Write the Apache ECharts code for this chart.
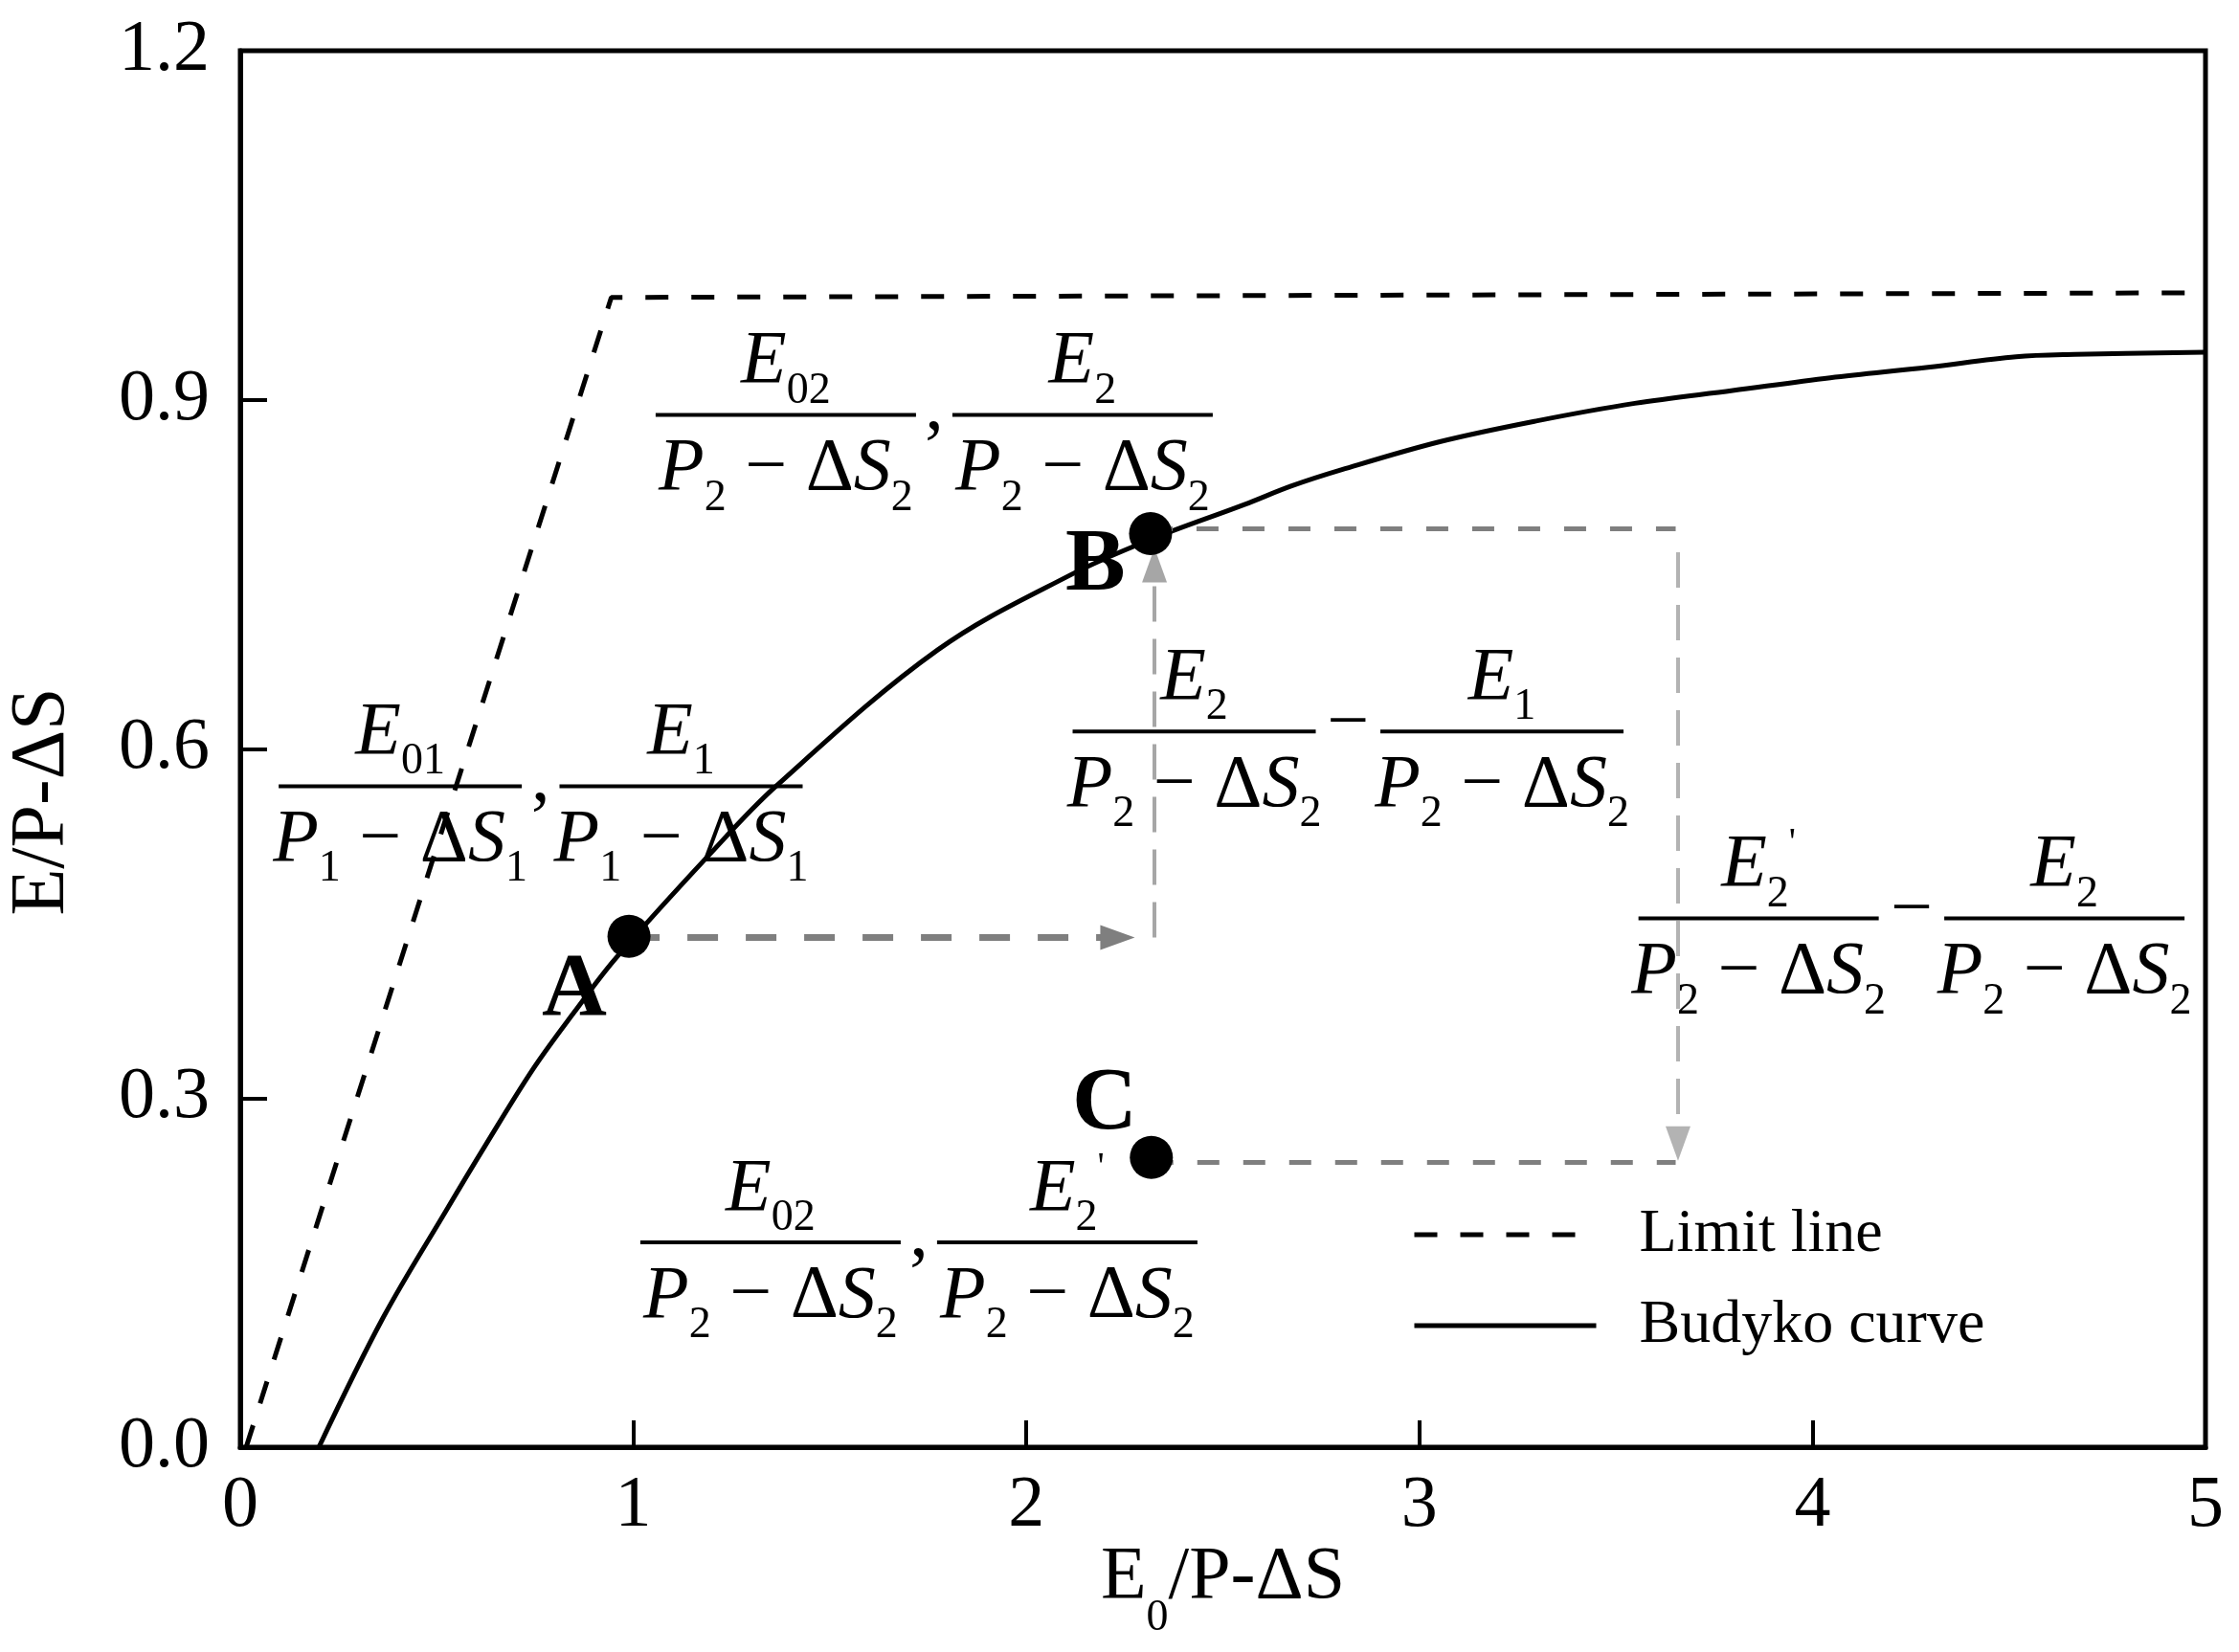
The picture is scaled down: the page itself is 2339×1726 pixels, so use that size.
<!DOCTYPE html>
<html>
<head>
<meta charset="utf-8">
<script src="https://cdn.jsdelivr.net/npm/echarts@6/dist/echarts.min.js"></script>
<style>
html, body { margin: 0; padding: 0; background: #fff; }
#main { width: 2339px; height: 1726px; }
</style>
</head>
<body>
<div id="main"></div>
<script>
var FONT = '"Liberation Serif", "Times New Roman", serif';

// axes
var xTicks = [0, 1, 2, 3, 4, 5];
var yTicks = [0.0, 0.3, 0.6, 0.9, 1.2];

// limit line
var limitX = [0.015, 0.944, 5.0];
var limitY = [0.0, 0.988, 0.992];

// budyko curve
var budykoX = [0.20, 0.363, 0.525, 0.623, 0.745, 0.85, 0.955, 1.193, 1.363, 1.774, 2.115, 2.316, 2.555, 2.675, 2.803, 3.052, 3.30, 3.548, 3.797, 4.045, 4.294, 4.518, 4.667, 5.0];
var budykoY = [0.0, 0.111, 0.204, 0.259, 0.325, 0.374, 0.420, 0.509, 0.568, 0.685, 0.750, 0.780, 0.810, 0.826, 0.840, 0.864, 0.882, 0.897, 0.908, 0.919, 0.928, 0.937, 0.939, 0.941];

// points A, B, C and where their letters sit
var pointNames = ['A', 'B', 'C'];
var pointX = [0.989, 2.316, 2.318];
var pointY = [0.439, 0.785, 0.249];
var letterX = [0.850, 2.176, 2.199];
var letterY = [0.392, 0.757, 0.294];

// gray guide arrows (start / end)
var guideFrom = [[0.989, 0.438], [2.326, 0.438], [2.316, 0.789], [3.658, 0.769], [2.318, 0.245]];
var guideTo   = [[2.232, 0.438], [2.326, 0.758], [3.652, 0.789], [3.658, 0.261], [3.652, 0.245]];
var guideArrow = [true, true, false, true, false];

// fraction annotations
var fracX = [[1.388, 2.143], [0.407, 1.1215], [2.427, 3.210], [3.863, 4.641], [1.349, 2.104]];
var fracY = [0.887, 0.568, 0.615, 0.4544, 0.176];
var fracNum = [['E02', 'E2'], ['E01', 'E1'], ['E2', 'E1'], ["E2'", 'E2'], ['E02', "E2'"]];
var fracDen = [['2', '2'], ['1', '1'], ['2', '2'], ['2', '2'], ['2', '2']];
var fracSep = [',', ',', '\u2212', '\u2212', ','];

// styles
var guideStyles = [
  {color: '#7f7f7f', width: 7, type: [32, 29]},
  {color: '#a6a6a6', width: 4, type: [37, 18]},
  {color: '#7f7f7f', width: 5, type: [23, 25]},
  {color: '#b3b3b3', width: 4, type: [37, 18]},
  {color: '#7f7f7f', width: 5, type: [23, 25]}
];
var fracBarW = [272, 254, 254, 251, 272];

var mathRich = {
  it:  {fontFamily: FONT, fontStyle: 'italic', fontSize: 78, color: '#000', verticalAlign: 'middle'},
  rm:  {fontFamily: FONT, fontSize: 78, color: '#000', verticalAlign: 'middle'},
  sub: {fontFamily: FONT, fontSize: 46, color: '#000', verticalAlign: 'middle', padding: [60, 0, 0, 0]},
  sup: {fontFamily: FONT, fontSize: 40, color: '#000', verticalAlign: 'middle', padding: [0, 0, 46, 0]}
};

function numText(s) {
  var t = '{it|E}{sub|' + s.slice(1).replace("'", '') + '}';
  if (s.indexOf("'") >= 0) t += "{sup|'}";
  return t;
}
function denText(k) {
  return '{it|P}{sub|' + k + '}{rm| \u2212 \u0394}{it|S}{sub|' + k + '}';
}

var chart = echarts.init(document.getElementById('main'));

var axisCommon = {
  type: 'value',
  nameLocation: 'middle',
  nameMoveOverlap: false,
  axisLine: {show: true, onZero: false, lineStyle: {color: '#000', width: 5}},
  axisTick: {show: true, inside: true, length: 28, lineStyle: {color: '#000', width: 4}},
  splitLine: {show: false},
  minorTick: {show: false}
};

var option = {
  animation: false,
  backgroundColor: '#fff',
  grid: {left: 251, top: 53, width: 2053, height: 1459, show: true, borderColor: '#000', borderWidth: 5,
         containLabel: false, outerBoundsMode: 'none'},
  xAxis: Object.assign({}, axisCommon, {
    min: xTicks[0], max: xTicks[xTicks.length - 1], interval: 1,
    name: '{rm|E}{sub|0}{rm|/P-\u0394S}',
    nameGap: 72,
    nameTextStyle: {rich: {
      rm: {fontFamily: FONT, fontSize: 78, color: '#000', verticalAlign: 'middle'},
      sub: {fontFamily: FONT, fontSize: 46, color: '#000', verticalAlign: 'middle', padding: [84, 0, 0, 0]}
    }},
    axisLabel: {margin: 24, fontFamily: FONT, fontSize: 76, color: '#000',
      formatter: function (v) { return String(v); }}
  }),
  yAxis: Object.assign({}, axisCommon, {
    min: yTicks[0], max: yTicks[yTicks.length - 1], interval: 0.3,
    name: 'E/P-\u0394S',
    nameGap: 166,
    nameTextStyle: {fontFamily: FONT, fontSize: 80, color: '#000', padding: [0, 110, 0, 0]},
    axisLabel: {margin: 32, fontFamily: FONT, fontSize: 76, color: '#000',
      formatter: function (v) { return v.toFixed(1); }}
  }),
  legend: {
    data: ['Limit line', 'Budyko curve'],
    orient: 'vertical', left: 1470, top: 1253,
    itemWidth: 190, itemHeight: 20, itemGap: 31,
    selectedMode: false,
    itemStyle: {color: 'rgba(0,0,0,0)', borderWidth: 0, opacity: 0},
    lineStyle: {width: 5, color: '#000'},
    textStyle: {fontFamily: FONT, fontSize: 64, color: '#000', padding: [0, 0, 0, 40]}
  },
  series: [
    {
      name: 'Limit line', type: 'line', symbol: 'none', showSymbol: false, z: 4,
      data: limitX.map(function (x, i) { return [x, limitY[i]]; }),
      itemStyle: {color: '#000'},
      lineStyle: {color: '#000', width: 5, type: [24, 24]}
    },
    {
      name: 'Budyko curve', type: 'line', symbol: 'none', showSymbol: false, smooth: 0.35, z: 4,
      data: budykoX.map(function (x, i) { return [x, budykoY[i]]; }),
      itemStyle: {color: '#000'},
      lineStyle: {color: '#000', width: 5}
    },
    {
      name: 'guides', type: 'line', data: [], z: 3, silent: true,
      markLine: {
        silent: true, animation: false, label: {show: false},
        emphasis: {disabled: true},
        data: guideFrom.map(function (f, i) {
          return [
            {coord: f, symbol: 'none', lineStyle: guideStyles[i]},
            {coord: guideTo[i], symbol: guideArrow[i] ? 'triangle' : 'none', symbolSize: [26, 36]}
          ];
        })
      }
    },
    {
      name: 'points', type: 'scatter', symbolSize: 45, z: 6,
      itemStyle: {color: '#000', opacity: 1},
      data: pointX.map(function (x, i) { return {name: pointNames[i], value: [x, pointY[i]]}; })
    },
    {
      name: 'letters', type: 'scatter', symbolSize: 1, z: 7,
      itemStyle: {color: 'rgba(0,0,0,0)', opacity: 1},
      label: {show: true, position: 'inside', formatter: '{b}', fontFamily: FONT,
              fontWeight: 'bold', fontSize: 94, color: '#000', opacity: 1},
      data: letterX.map(function (x, i) { return {name: pointNames[i], value: [x, letterY[i]]}; })
    }
  ]
};
chart.setOption(option);

// fraction annotations placed through the chart's own scales
var elems = [];
function addText(x, y, text) {
  elems.push({type: 'text', x: x, y: y, z: 10, silent: true,
    style: {text: text, rich: mathRich, fill: '#000', font: '78px ' + FONT,
            align: 'center', verticalAlign: 'middle', textAlign: 'center', textVerticalAlign: 'middle'}});
}
fracX.forEach(function (xs, g) {
  var pts = xs.map(function (x) { return chart.convertToPixel({gridIndex: 0}, [x, fracY[g]]); });
  pts.forEach(function (p, k) {
    var w = fracBarW[g];
    elems.push({type: 'line', z: 10, silent: true,
      shape: {x1: p[0] - w / 2, y1: p[1], x2: p[0] + w / 2, y2: p[1]},
      style: {stroke: '#000', lineWidth: 4}});
    addText(p[0], p[1] - 55, numText(fracNum[g][k]));
    addText(p[0], p[1] + 57, denText(fracDen[g][k]));
  });
  var mx = (pts[0][0] + fracBarW[g] / 2 + pts[1][0] - fracBarW[g] / 2) / 2;
  addText(mx, pts[0][1] + (fracSep[g] === ',' ? -6 : -7), '{rm|' + fracSep[g] + '}');
});
chart.setOption({graphic: elems});
</script>
</body>
</html>
